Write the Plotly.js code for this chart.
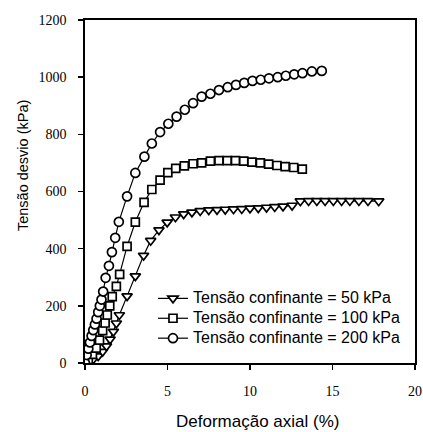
<!DOCTYPE html>
<html>
<head>
<meta charset="utf-8">
<script src="https://cdn.plot.ly/plotly-3.0.1.min.js"></script>
<style>
  html, body { margin: 0; padding: 0; background: #fff; }
  #chart { width: 423px; height: 432px; }
  /* larger legend lettering while keeping the compact row spacing */
  #chart .legend .legendtext { font-size: 16px !important; }
  #chart .legend .scrollbox { clip-path: none !important; }
</style>
</head>
<body>
<div id="chart"></div>
<script>
// Deviator stress vs axial strain for three confining pressures
const seriesNames = [
  "Tensão confinante = 50 kPa",
  "Tensão confinante = 100 kPa",
  "Tensão confinante = 200 kPa"
];

const strain50 = [0, 0.2, 0.5, 0.8, 1.07, 1.3, 1.52, 1.72, 1.9, 2.08,
  2.55, 3.05, 3.55, 3.98, 4.48, 4.98, 5.48, 5.98, 6.48, 6.98,
  7.5, 8.0, 8.5, 9.0, 9.5, 10.0, 10.5, 11.0, 11.5, 12.0,
  12.55, 13.05, 13.55, 14.05, 14.55, 15.05, 15.55, 16.05, 16.6, 17.15, 17.8];
const stress50 = [0, 5, 13, 24, 40, 59, 83, 110, 139, 168,
  234, 304, 376, 428, 465, 492, 510, 521, 527, 532,
  535, 536, 537, 538, 539, 541, 542, 544, 546, 548,
  551, 566, 567, 567, 567, 567, 567, 567, 567, 567, 566];

const strain100 = [0, 0.2, 0.45, 0.68, 0.88, 1.07, 1.22, 1.35, 1.5, 1.65,
  1.9, 2.1, 2.55, 3.05, 3.58, 4.05, 4.55, 5.02, 5.5, 6.02,
  6.55, 7.07, 7.6, 8.12, 8.62, 9.12, 9.62, 10.12, 10.63, 11.13,
  11.63, 12.13, 12.65, 13.17];
const stress100 = [0, 12, 30, 52, 80, 113, 140, 168, 200, 232,
  268, 310, 408, 493, 562, 607, 640, 666, 681, 690,
  697, 700, 706, 708, 708, 708, 706, 703, 700, 696,
  691, 687, 684, 678];

const strain200 = [0, 0.1, 0.2, 0.3, 0.4, 0.5, 0.6, 0.7, 0.8, 0.9,
  1.0, 1.1, 1.25, 1.45, 1.63, 1.83, 2.05, 2.55, 3.05, 3.6,
  4.05, 4.55, 5.05, 5.55, 6.05, 6.55, 7.07, 7.6, 8.12, 8.65,
  9.15, 9.65, 10.15, 10.65, 11.15, 11.68, 12.17, 12.68, 13.18, 13.75, 14.35];
const stress200 = [0, 28, 50, 72, 95, 115, 135, 155, 178, 200,
  222, 250, 298, 340, 388, 438, 494, 583, 665, 722,
  768, 808, 837, 862, 886, 909, 932, 942, 955, 965,
  973, 980, 987, 991, 996, 1000, 1005, 1010, 1014, 1020, 1022];

const xTicks = [0, 5, 10, 15, 20];
const yTicks = [0, 200, 400, 600, 800, 1000, 1200];

function series(x, y, name, symbol, size) {
  return {
    x: x, y: y, name: name,
    type: "scatter", mode: "lines+markers",
    line: { color: "#000", width: 1.2 },
    marker: { symbol: symbol, size: size, color: "#fff",
              line: { color: "#000", width: 1.7 } }
  };
}

const traces = [
  series(strain50, stress50, seriesNames[0], "triangle-down", 9),
  series(strain100, stress100, seriesNames[1], "square", 8),
  series(strain200, stress200, seriesNames[2], "circle", 9)
];

const tickFont = { family: "Liberation Serif, Times New Roman, serif", size: 14, color: "#000" };
const textFont = { family: "Liberation Sans, Arial, sans-serif", color: "#000" };

const axisCommon = {
  showgrid: false, zeroline: false,
  showline: true, mirror: true, linecolor: "#000", linewidth: 1.8,
  ticks: "outside", ticklen: 5, tickwidth: 1.5, tickcolor: "#000",
  tickfont: tickFont
};

const layout = {
  width: 423, height: 432,
  margin: { l: 85, r: 8, t: 20, b: 69 },
  paper_bgcolor: "#fff", plot_bgcolor: "#fff",
  showlegend: true,
  legend: {
    x: 0.206, y: 0.232, xanchor: "left", yanchor: "top",
    bgcolor: "rgba(0,0,0,0)", borderwidth: 0,
    font: Object.assign({ size: 13 }, textFont),
    traceorder: "normal", tracegroupgap: 0
  },
  xaxis: Object.assign({}, axisCommon, {
    range: [0, 20], tickvals: xTicks, ticktext: xTicks.map(String),
    ticklabelstandoff: 9
  }),
  yaxis: Object.assign({}, axisCommon, {
    range: [0, 1200], tickvals: yTicks, ticktext: yTicks.map(String),
    ticklabelstandoff: 9
  }),
  annotations: [
    { text: "Deformação axial (%)", xref: "paper", yref: "paper",
      x: 0.524, y: -0.172, xanchor: "center", yanchor: "middle",
      showarrow: false, font: Object.assign({ size: 17 }, textFont) },
    { text: "Tensão desvio (kPa)", xref: "paper", yref: "paper",
      x: -0.188, y: 0.577, xanchor: "center", yanchor: "middle",
      textangle: -90, showarrow: false, font: Object.assign({ size: 14.5 }, textFont) }
  ]
};

Plotly.newPlot("chart", traces, layout, { displayModeBar: false, staticPlot: true });
</script>
</body>
</html>
